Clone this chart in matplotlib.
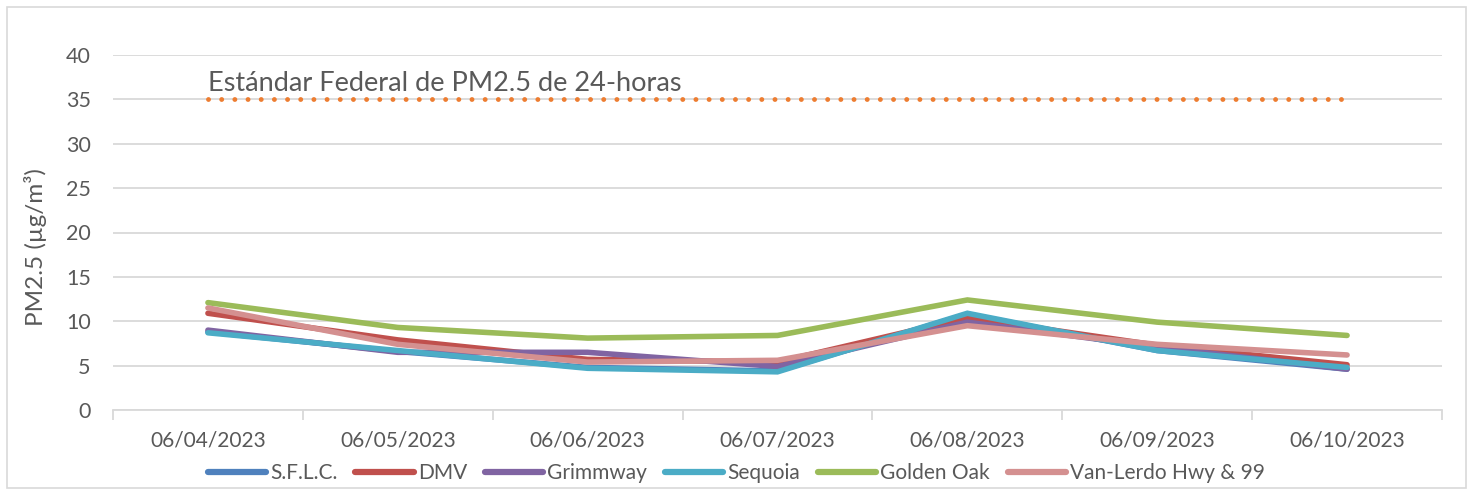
import matplotlib
matplotlib.use("Agg")
import matplotlib.pyplot as plt
from matplotlib.patches import Rectangle
import numpy as np

plt.rcParams['font.family'] = ['Lato', 'DejaVu Sans']

dates = ["06/04/2023", "06/05/2023", "06/06/2023", "06/07/2023",
         "06/08/2023", "06/09/2023", "06/10/2023"]
sflc = [8.8, 6.6, 4.8, 4.4, 10.8, 6.7, 4.6]
dmv = [10.9, 7.9, 5.7, 5.4, 10.4, 7.3, 5.1]
grimmway = [9.0, 6.5, 6.5, 4.9, 9.9, 7.1, 4.6]
sequoia = [8.7, 6.7, 4.7, 4.3, 10.9, 6.7, 4.8]
golden_oak = [12.1, 9.3, 8.1, 8.4, 12.4, 9.9, 8.4]
van_lerdo = [11.5, 7.4, 5.4, 5.6, 9.5, 7.4, 6.2]
standard = [35] * 7
standard_label = "Estándar Federal de PM2.5 de 24-horas"

series = [
    ("S.F.L.C.", sflc, "#4F81BD"),
    ("DMV", dmv, "#C0504D"),
    ("Grimmway", grimmway, "#8064A2"),
    ("Sequoia", sequoia, "#4BACC6"),
    ("Golden Oak", golden_oak, "#9BBB59"),
    ("Van-Lerdo Hwy & 99", van_lerdo, "#D49090"),
]

fig = plt.figure(figsize=(14.73, 4.91), dpi=100)
ax = fig.add_axes([113/1473, 1-410/491, (1442-113)/1473, (410-55)/491])

x = np.arange(len(dates))
ax.plot(x, standard, color="#ED7D31", lw=3.5, linestyle=(0, (0.01, 2.7)),
        dash_capstyle='round', solid_capstyle='round')
for name, vals, col in series:
    ax.plot(x, vals, color=col, lw=4.0, label=name, solid_capstyle='round',
            solid_joinstyle='miter')

ax.text(0.0, 35.9, standard_label, fontsize=19.5, color="#595959",
        ha='left', va='baseline')

ax.set_xlim(-0.5, 6.5)
ax.set_ylim(0, 40)
ax.set_yticks(range(0, 41, 5))
ax.set_xticks(x)
ax.set_xticklabels(dates)
ax.set_xticks(np.arange(-0.5, 7, 1), minor=True)
ax.grid(axis='y', color="#D9D9D9", lw=1.3)
ax.set_axisbelow(True)
for s in ['top', 'right', 'left']:
    ax.spines[s].set_visible(False)
ax.spines['bottom'].set_color("#D9D9D9")
ax.spines['bottom'].set_linewidth(1.3)
ax.tick_params(axis='y', length=0, labelsize=15.5, labelcolor="#595959", pad=16)
ax.tick_params(axis='x', which='major', length=0, labelsize=15,
               labelcolor="#595959", pad=15)
ax.tick_params(axis='x', which='minor', length=7, color="#D9D9D9", width=1.3)
ax.set_ylabel("PM2.5 (µg/m³)", fontsize=17.5, color="#595959")
ax.yaxis.set_label_coords(-0.05, 0.46)

leg = fig.legend(loc='center', bbox_to_anchor=(0.5, 1-473/491), ncol=6,
                 frameon=False, fontsize=15, handlelength=2.8,
                 handletextpad=0.2, columnspacing=0.85)
for t in leg.get_texts():
    t.set_color("#595959")
for h in leg.get_lines():
    h.set_linewidth(4.5)

fig.patches.append(Rectangle((7/1473, 3/491), 1459/1473, 481/491,
                             transform=fig.transFigure, fill=False,
                             edgecolor="#D9D9D9", lw=1.2))

fig.savefig("out.png", dpi=100, facecolor="white")
